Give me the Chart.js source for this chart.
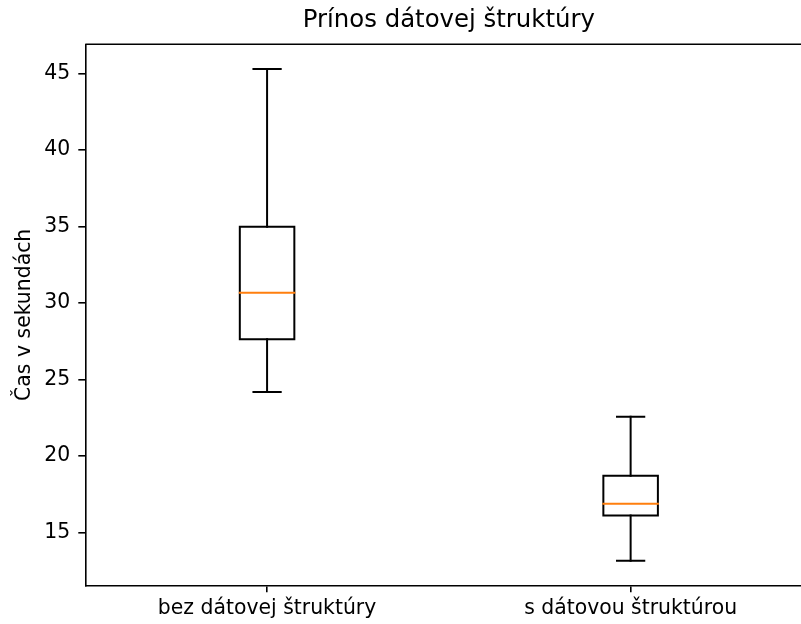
<!DOCTYPE html>
<html><head><meta charset="utf-8">
<script src="https://cdn.jsdelivr.net/npm/chart.js@4"></script>
<style>html,body{margin:0;padding:0;overflow:hidden;background:#fff}canvas{display:block}</style>
</head><body>
<canvas id="c" width="830" height="624"></canvas>
<script>
const categories = ['bez dátovej štruktúry', 's dátovou štruktúrou'];
const whiskerLow = [24.2, 13.17];
const quartile1 = [27.64, 16.13];
const medians = [30.68, 16.89];
const quartile3 = [35.0, 18.72];
const whiskerHigh = [45.31, 22.58];
const yTicks = [15, 20, 25, 30, 35, 40, 45];
const chartTitle = 'Prínos dátovej štruktúry';
const yLabel = 'Čas v sekundách';

const BOX_W = 0.15, CAP_W = BOX_W / 2;
const positions = categories.map((_, i) => i + 1);
const lo = Math.min(...whiskerLow), hi = Math.max(...whiskerHigh);
const margin = 0.05 * (hi - lo);

function paths(list) {
  const out = [];
  list.forEach(pts => { out.push(...pts, {x: pts[pts.length - 1].x, y: null}); });
  return out;
}
const boxData = paths(positions.map((x, i) => {
  const l = x - BOX_W / 2, r = x + BOX_W / 2;
  return [{x: l, y: quartile1[i]}, {x: r, y: quartile1[i]}, {x: r, y: quartile3[i]},
          {x: l, y: quartile3[i]}, {x: l, y: quartile1[i]}];
}));
const whiskerData = paths(positions.flatMap((x, i) => [
  [{x, y: quartile3[i]}, {x, y: whiskerHigh[i]}],
  [{x, y: quartile1[i]}, {x, y: whiskerLow[i]}]
]));
const capData = paths(positions.flatMap((x, i) => [
  [{x: x - CAP_W / 2, y: whiskerHigh[i]}, {x: x + CAP_W / 2, y: whiskerHigh[i]}],
  [{x: x - CAP_W / 2, y: whiskerLow[i]}, {x: x + CAP_W / 2, y: whiskerLow[i]}]
]));
const medianData = paths(positions.map((x, i) =>
  [{x: x - BOX_W / 2, y: medians[i]}, {x: x + BOX_W / 2, y: medians[i]}]
));

const lineDs = (label, data, color, order) => ({
  type: 'line', label, data, borderColor: color, borderWidth: 2, pointRadius: 0,
  fill: false, tension: 0, spanGaps: false, borderCapStyle: 'square',
  borderJoinStyle: 'miter', order
});

const frame = {
  id: 'frame',
  afterDraw(chart) {
    const {ctx, chartArea: a} = chart;
    ctx.save();
    ctx.strokeStyle = '#000'; ctx.lineWidth = 1.6;
    ctx.beginPath();
    ctx.moveTo(a.left, a.top); ctx.lineTo(a.right, a.top);
    ctx.stroke();
    ctx.restore();
  }
};

Chart.defaults.font.family = "'DejaVu Sans', sans-serif";
Chart.defaults.color = '#000';

new Chart(document.getElementById('c'), {
  type: 'line',
  data: {
    datasets: [
      lineDs('boxes', boxData, '#000', 3),
      lineDs('whiskers', whiskerData, '#000', 2),
      lineDs('caps', capData, '#000', 2),
      lineDs('medians', medianData, '#ff7f0e', 1)
    ]
  },
  options: {
    responsive: false,
    devicePixelRatio: 1,
    animation: false,
    layout: {padding: {left: 0, top: 0, right: 17.6, bottom: 0}},
    plugins: {
      legend: {display: false},
      tooltip: {enabled: false},
      title: {
        display: true, text: chartTitle, fullSize: false, color: '#000',
        font: {size: 24.4, weight: 'normal', family: "'DejaVu Sans', sans-serif"},
        padding: {top: 6.2, bottom: 8.82}
      }
    },
    scales: {
      x: {
        type: 'linear', min: 0.5, max: 2.5, offset: false,
        afterBuildTicks: s => { s.ticks = positions.map(v => ({value: v})); },
        afterFit: s => { s.height = 38.7; },
        ticks: {
          callback: v => categories[positions.indexOf(v)],
          font: {size: 20.4}, color: '#000', padding: 4.4, maxRotation: 0, minRotation: 0, autoSkip: false
        },
        grid: {offset: false, drawOnChartArea: false, drawTicks: true, tickLength: 7, color: '#000', lineWidth: 1.6},
        border: {display: true, color: '#000', width: 1.6}
      },
      y: {
        type: 'linear', min: lo - margin, max: hi + margin,
        afterBuildTicks: s => { s.ticks = yTicks.map(v => ({value: v})); },
        afterFit: s => { s.width = 85.3; },
        ticks: {font: {size: 20.4}, color: '#000', padding: 8},
        grid: {drawOnChartArea: false, drawTicks: true, tickLength: 7, color: '#000', lineWidth: 1.6},
        border: {display: true, color: '#000', width: 1.6},
        title: {display: true, text: yLabel, font: {size: 20.4}, color: '#000', padding: {top: 12.4, bottom: 0}}
      }
    }
  },
  plugins: [frame]
});
</script>
</body></html>
